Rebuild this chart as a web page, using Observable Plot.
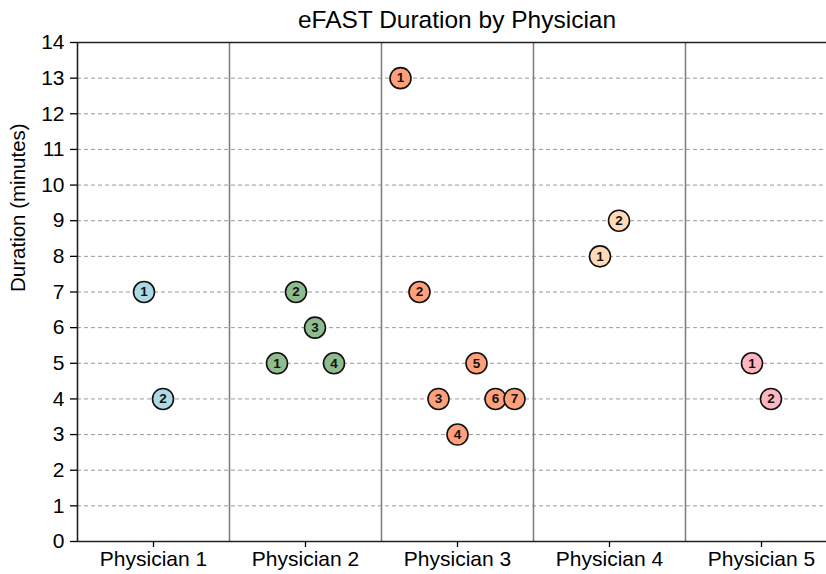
<!DOCTYPE html>
<html><head><meta charset="utf-8">
<script src="https://cdn.jsdelivr.net/npm/d3@7"></script>
<script src="https://cdn.jsdelivr.net/npm/@observablehq/plot@0.6"></script>
<style>
html,body{margin:0;padding:0;background:#fff;overflow:hidden;}
body{font-family:"Liberation Sans",Arial,Helvetica,sans-serif;color:#000;}
#title{margin-left:77px;width:760px;height:34px;line-height:40px;text-align:center;font-size:24.5px;overflow:visible;white-space:nowrap;}
#chart svg{display:block;overflow:visible;max-width:none !important;width:838px !important;height:540px !important;}
</style>
</head><body>
<div id="title">eFAST Duration by Physician</div>
<div id="chart"></div>
<script>
const physicians = ["Physician 1", "Physician 2", "Physician 3", "Physician 4", "Physician 5"];
const colors = ["#add8e6", "#8fbc8f", "#ffa07a", "#ffdab9", "#ffb6c1"];
const p1 = [7, 4];
const p2 = [5, 7, 6, 5];
const p3 = [13, 7, 4, 3, 5, 4, 4];
const p4 = [8, 9];
const p5 = [5, 4];
const yTicks = [0,1,2,3,4,5,6,7,8,9,10,11,12,13,14];
const yLabel = "Duration (minutes)";

const series = [p1, p2, p3, p4, p5];
const rows = [];
series.forEach((vals, k) => {
  const n = vals.length;
  vals.forEach((v, i) => {
    rows.push({physician: physicians[k], idx: i + 1, duration: v, xpos: k + 0.5 + (i - (n - 1) / 2) * 0.125});
  });
});
const centers = physicians.map((_, k) => k + 0.5);
const separators = physicians.slice(1).map((_, k) => k + 1);
const gridTicks = yTicks.slice(1, -1);

const chart = Plot.plot({
  width: 838, height: 540,
  marginTop: 8, marginBottom: 33, marginLeft: 77, marginRight: 1,
  style: {fontFamily: '"Liberation Sans", Arial, sans-serif', background: "white", color: "black"},
  x: {domain: [0, 5], axis: null},
  y: {domain: [0, 14], axis: null},
  color: {domain: physicians, range: colors},
  marks: [
    Plot.ruleY(gridTicks, {stroke: "#9a9a9a", strokeDasharray: "4,3", strokeWidth: 1}),
    Plot.ruleX(separators, {stroke: "#808080", strokeWidth: 1.6}),
    Plot.ruleX([0], {stroke: "#222", strokeWidth: 1.6}),
    Plot.ruleY([0], {stroke: "#222", strokeWidth: 1.6}),
    Plot.ruleY([14], {stroke: "#222", strokeWidth: 1.6}),
    Plot.axisY({ticks: yTicks, tickSize: 7, tickPadding: 6, fontSize: 21, label: null, strokeWidth: 1.3}),
    Plot.axisX({ticks: centers, tickSize: 6, tickPadding: 4, fontSize: 21, label: null, strokeWidth: 1.3,
      tickFormat: d => physicians[Math.floor(d)]}),
    Plot.text([yLabel], {frameAnchor: "left", rotate: -90, dx: -59, fontSize: 20.5}),
    Plot.dot(rows, {x: "xpos", y: "duration", r: 10.5, fill: "physician", fillOpacity: 1, stroke: "#111", strokeWidth: 1.6}),
    Plot.text(rows, {x: "xpos", y: "duration", text: d => String(d.idx), fontSize: 13.5, fontWeight: "bold", fill: "#111"})
  ]
});
document.getElementById("chart").appendChild(chart);
</script>
</body></html>
